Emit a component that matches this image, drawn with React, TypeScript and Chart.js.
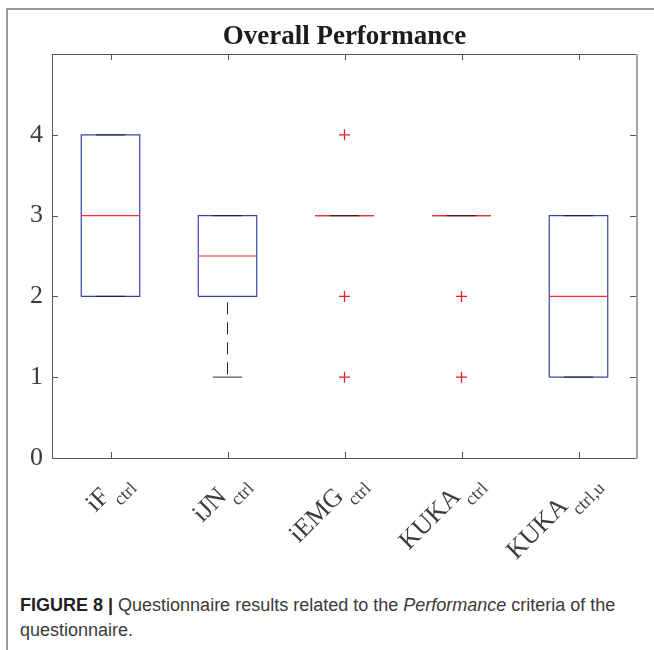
import React, { useEffect, useRef } from 'react';
import { Chart, registerables } from 'chart.js';

Chart.register(...registerables);

// ---- data ----
const chartTitle = 'Overall Performance';
const categories = ['iF', 'iJN', 'iEMG', 'KUKA', 'KUKA'];
const categorySubscripts = ['ctrl', 'ctrl', 'ctrl', 'ctrl', 'ctrl,u'];
const lowerQuartiles = [2, 2, 3, 3, 1];
const medians = [3, 2.5, 3, 3, 2];
const upperQuartiles = [4, 3, 3, 3, 3];
const lowerWhiskers = [2, 1, 3, 3, 1];
const upperWhiskers = [4, 3, 3, 3, 3];
const outlierValues: number[][] = [[], [], [4, 2, 1], [2, 1], []];
const yTickValues = [0, 1, 2, 3, 4];
const yLimit = 5;

// ---- styling ----
const BOX_HALF = 0.25;
const CAP_HALF = 0.125;
const SERIF = '"Liberation Serif", "Times New Roman", serif';
const AXIS_COLOR = '#555555';
const TEXT_COLOR = '#3c3c3c';
const BOX_COLOR = '#3347a8';
const MEDIAN_COLOR = '#ff2a2a';
const CANVAS_W = 654;
const CANVAS_H = 590;

type Pt = { x: number; y: number | null };
const gap = (p: number): Pt => ({ x: p + 0.5, y: null });

const boxPoints: Pt[] = categories.flatMap((_, i) => {
  const p = i + 1;
  const lo = lowerQuartiles[i];
  const hi = upperQuartiles[i];
  return [
    { x: p - BOX_HALF, y: lo },
    { x: p + BOX_HALF, y: lo },
    { x: p + BOX_HALF, y: hi },
    { x: p - BOX_HALF, y: hi },
    { x: p - BOX_HALF, y: lo },
    gap(p),
  ];
});

const medianPoints: Pt[] = categories.flatMap((_, i) => {
  const p = i + 1;
  return [{ x: p - BOX_HALF, y: medians[i] }, { x: p + BOX_HALF, y: medians[i] }, gap(p)];
});

const whiskerPoints: Pt[] = categories.flatMap((_, i) => {
  const p = i + 1;
  return [
    { x: p, y: upperQuartiles[i] },
    { x: p, y: upperWhiskers[i] },
    gap(p),
    { x: p, y: lowerQuartiles[i] },
    { x: p, y: lowerWhiskers[i] },
    gap(p),
  ];
});

const capPoints: Pt[] = categories.flatMap((_, i) => {
  const p = i + 1;
  return [
    { x: p - CAP_HALF, y: upperWhiskers[i] },
    { x: p + CAP_HALF, y: upperWhiskers[i] },
    gap(p),
    { x: p - CAP_HALF, y: lowerWhiskers[i] },
    { x: p + CAP_HALF, y: lowerWhiskers[i] },
    gap(p),
  ];
});

const outlierPoints: Pt[] = outlierValues.flatMap((vals, i) => vals.map((v) => ({ x: i + 1, y: v })));

// Box frame with inward ticks, title and subscripted category labels
const decorations = {
  id: 'boxDecorations',
  afterDraw(chart: any) {
    const { ctx, chartArea, scales } = chart;
    const { left, right, top, bottom } = chartArea;
    const xs = scales.x;
    const ys = scales.y;
    const tickLen = 6;

    ctx.save();
    // top axis line
    ctx.strokeStyle = AXIS_COLOR;
    ctx.lineWidth = 1;
    ctx.beginPath();
    ctx.moveTo(left, Math.round(top) + 0.5);
    ctx.lineTo(right, Math.round(top) + 0.5);
    ctx.stroke();
    // right axis line
    ctx.strokeStyle = '#a6a6a6';
    ctx.lineWidth = 2;
    ctx.beginPath();
    ctx.moveTo(right, top);
    ctx.lineTo(right, bottom + 1);
    ctx.stroke();

    // inward ticks
    ctx.strokeStyle = AXIS_COLOR;
    ctx.lineWidth = 1;
    ctx.beginPath();
    yTickValues.forEach((v) => {
      const py = Math.round(ys.getPixelForValue(v)) + 0.5;
      ctx.moveTo(left, py);
      ctx.lineTo(left + tickLen, py);
      ctx.moveTo(right - 1, py);
      ctx.lineTo(right - 1 - tickLen, py);
    });
    categories.forEach((_, i) => {
      const px = Math.round(xs.getPixelForValue(i + 1)) + 0.5;
      ctx.moveTo(px, bottom);
      ctx.lineTo(px, bottom - tickLen);
      ctx.moveTo(px, top);
      ctx.lineTo(px, top + tickLen);
    });
    ctx.stroke();

    // title
    ctx.fillStyle = '#1c1c1c';
    ctx.font = `bold 27px ${SERIF}`;
    ctx.textAlign = 'center';
    ctx.textBaseline = 'alphabetic';
    ctx.fillText(chartTitle, (left + right) / 2, 44);

    // rotated category labels with subscripts
    ctx.fillStyle = TEXT_COLOR;
    categories.forEach((name, i) => {
      const px = xs.getPixelForValue(i + 1);
      const sub = categorySubscripts[i];
      ctx.save();
      ctx.translate(px + 18, bottom + 22);
      ctx.rotate(-Math.PI / 4);
      ctx.textAlign = 'right';
      ctx.textBaseline = 'alphabetic';
      ctx.font = `18px ${SERIF}`;
      const subW = ctx.measureText(sub).width;
      ctx.fillText(sub, 0, 13);
      ctx.font = `26px ${SERIF}`;
      ctx.fillText(name, -(subW + 1), 0);
      ctx.restore();
    });
    ctx.restore();
  },
};

export default function App() {
  const canvasRef = useRef<HTMLCanvasElement | null>(null);

  useEffect(() => {
    const canvas = canvasRef.current;
    if (!canvas) return;
    const lineBase = {
      showLine: true,
      pointRadius: 0,
      pointHoverRadius: 0,
      spanGaps: false,
      fill: false,
    };
    const chart = new Chart(canvas, {
      type: 'scatter',
      data: {
        datasets: [
          {
            label: 'Outliers',
            data: outlierPoints as any,
            showLine: false,
            pointStyle: 'cross',
            pointRadius: 5.5,
            pointBorderWidth: 1.3,
            pointBorderColor: '#f01c24',
            borderColor: '#f01c24',
            backgroundColor: '#f01c24',
          },
          {
            ...lineBase,
            label: 'Caps',
            data: capPoints as any,
            borderColor: 'rgba(20,20,20,0.7)',
            borderWidth: 1.2,
          },
          {
            ...lineBase,
            label: 'Median',
            data: medianPoints as any,
            borderColor: MEDIAN_COLOR,
            borderWidth: 1.2,
          },
          {
            ...lineBase,
            label: 'Whiskers',
            data: whiskerPoints as any,
            borderColor: '#222222',
            borderWidth: 1,
            borderDash: [12, 8],
            borderDashOffset: 14,
          },
          {
            ...lineBase,
            label: 'Box',
            data: boxPoints as any,
            borderColor: BOX_COLOR,
            borderWidth: 1.2,
          },
        ] as any,
      },
      options: {
        responsive: false,
        animation: false,
        devicePixelRatio: 1,
        layout: { padding: { top: 54, right: 17, bottom: 0, left: 0 } },
        plugins: {
          legend: { display: false },
          tooltip: { enabled: false },
          title: { display: false },
        },
        events: [],
        scales: {
          x: {
            type: 'linear',
            min: 0.5,
            max: 5.5,
            ticks: { display: false },
            grid: { display: false, drawTicks: false },
            border: { display: true, color: AXIS_COLOR, width: 1 },
            afterFit: (scale: any) => {
              scale.height = CANVAS_H - 458;
            },
          },
          y: {
            type: 'linear',
            min: 0,
            max: yLimit,
            ticks: {
              stepSize: 1,
              padding: 9,
              color: TEXT_COLOR,
              font: { family: SERIF, size: 26 },
              callback: (v: any) => (yTickValues.includes(Number(v)) ? String(v) : ''),
            },
            grid: { display: false, drawTicks: false },
            border: { display: true, color: AXIS_COLOR, width: 1 },
            afterFit: (scale: any) => {
              scale.width = 52;
            },
          },
        },
      } as any,
      plugins: [decorations],
    });
    return () => chart.destroy();
  }, []);

  return (
    <div style={{ position: 'absolute', left: 0, top: 0, width: 654, height: 650, background: '#fff', overflow: 'hidden' }}>
      <div style={{ position: 'absolute', left: 6, top: 8, width: 648, height: 2, background: '#999' }} />
      <div style={{ position: 'absolute', left: 6, top: 8, width: 2, height: 642, background: '#999' }} />
      <canvas
        ref={canvasRef}
        width={CANVAS_W}
        height={CANVAS_H}
        style={{ position: 'absolute', left: 0, top: 0, width: CANVAS_W, height: CANVAS_H }}
      />
      <div
        style={{
          position: 'absolute',
          left: 20,
          top: 593,
          width: 630,
          fontFamily: '"Liberation Sans", Arial, sans-serif',
          fontSize: 18,
          lineHeight: '25px',
          color: '#3a3a3a',
          whiteSpace: 'nowrap',
        }}
      >
        <b style={{ color: '#222' }}>FIGURE 8 |</b> Questionnaire results related to the <i>Performance</i> criteria of the
        <br />
        questionnaire.
      </div>
    </div>
  );
}
